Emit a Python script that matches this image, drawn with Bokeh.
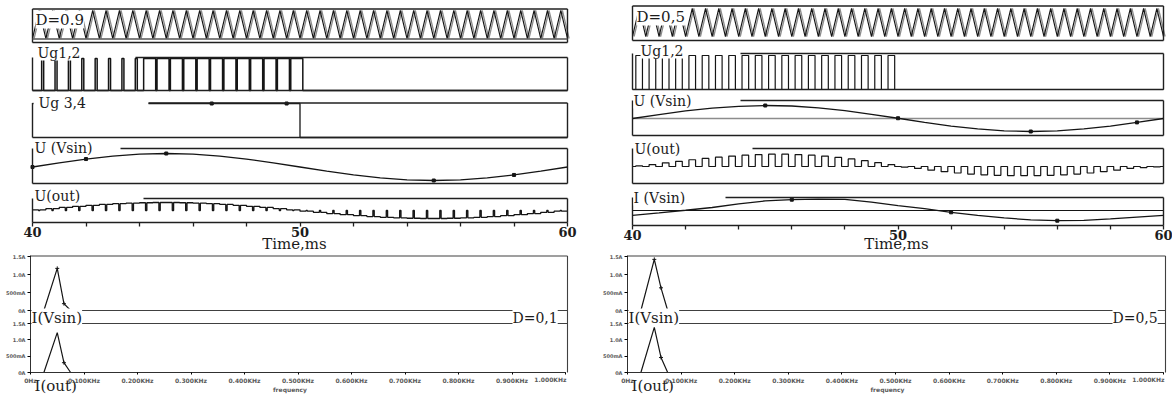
from bokeh.plotting import figure
from bokeh.models import (Range1d, LinearAxis, FixedTicker, CustomJSTickFormatter,
                          Label)
from bokeh.layouts import row, column
from bokeh.embed import file_html
from bokeh.resources import INLINE

# ---------------- data ----------------
t_slow = [40, 41, 42, 43, 44, 45, 46, 47, 48, 49, 50,
          51, 52, 53, 54, 55, 56, 57, 58, 59, 60]            # ms
pwm_cycle_t = [40.0 + 0.5 * k for k in range(40)]          # 2 kHz PWM cycle starts
carrier_t = [40.0 + 0.25 * i for i in range(81)]           # triangle vertices
carrier_v = [0.0, 1.0] * 40 + [0.0]

ug12_left_duty = [0.15] * 8 + [0.9] * 12 + [0.0] * 20
ug12_right_duty = [0.5] * 20 + [0.0] * 20
ug34_left_t = [40.0, 50.0, 50.0, 60.0]
ug34_left_v = [1.0, 1.0, 0.0, 0.0]

vsin_left = [0.0, 0.31, 0.59, 0.81, 0.95, 1.0, 0.95, 0.81, 0.59, 0.31, 0.0,
             -0.31, -0.59, -0.81, -0.95, -1.0, -0.95, -0.81, -0.59, -0.31, 0.0]
vsin_right = [0.0, 0.30, 0.58, 0.80, 0.94, 1.0, 0.96, 0.82, 0.60, 0.32, 0.02,
              -0.30, -0.58, -0.80, -0.95, -1.0, -0.95, -0.80, -0.58, -0.30, 0.0]
ivsin_right = [-0.40, -0.20, 0.02, 0.25, 0.55, 0.80, 0.90, 0.95, 0.92, 0.70, 0.40,
               0.15, -0.15, -0.40, -0.62, -0.78, -0.85, -0.82, -0.70, -0.55, -0.40]

uout_left_env = [0.08, 0.23, 0.38, 0.52, 0.65, 0.76, 0.85, 0.92, 0.97, 1.0,
                 1.0, 0.97, 0.92, 0.85, 0.76, 0.65, 0.52, 0.38, 0.23, 0.08,
                 -0.08, -0.23, -0.38, -0.52, -0.65, -0.76, -0.85, -0.92, -0.97, -1.0,
                 -1.0, -0.97, -0.92, -0.85, -0.76, -0.65, -0.52, -0.38, -0.23, -0.08]
uout_left_notch = 0.05     # ms off-time per cycle
uout_right_amp = [0.05, 0.15, 0.28, 0.40, 0.52, 0.62, 0.72, 0.80, 0.87, 0.92,
                  0.95, 0.95, 0.92, 0.87, 0.80, 0.70, 0.58, 0.45, 0.30, 0.15,
                  -0.05, -0.15, -0.28, -0.40, -0.50, -0.58, -0.64, -0.68, -0.70, -0.70,
                  -0.70, -0.68, -0.64, -0.58, -0.50, -0.40, -0.28, -0.15, -0.08, -0.03]
uout_right_duty = [0.5] * 40

marks_vsin_left = [0, 2, 5, 15, 18]
marks_vsin_right = [5, 10, 15, 19]
marks_ivsin_right = [6, 12, 16]
ug34_marks_t = [46.7, 49.5]
ug34_marks_v = [1.0, 1.0]

time_ticks = [40, 50, 60]
time_minor = [42, 44, 46, 48, 52, 54, 56, 58]

spec_f = [0.0, 0.025, 0.05, 0.0625, 0.075, 0.1, 0.2, 0.3, 0.4, 0.5, 0.6, 0.7, 0.8, 0.9, 1.0]
spec_ivsin_left = [0.0, 0.0, 1.17, 0.19, 0.0, 0.0, 0.0, 0.0, 0.0, 0.0, 0.0, 0.0, 0.0, 0.0, 0.0]
spec_iout_left = [0.0, 0.0, 1.22, 0.30, 0.0, 0.0, 0.0, 0.0, 0.0, 0.0, 0.0, 0.0, 0.0, 0.0, 0.0]
spec_ivsin_right = [0.0, 0.0, 1.42, 0.63, 0.0, 0.0, 0.0, 0.0, 0.0, 0.0, 0.0, 0.0, 0.0, 0.0, 0.0]
spec_iout_right = [0.0, 0.0, 1.38, 0.46, 0.0, 0.0, 0.0, 0.0, 0.0, 0.0, 0.0, 0.0, 0.0, 0.0, 0.0]
spec_ticks = [0.0, 0.1, 0.2, 0.3, 0.4, 0.5, 0.6, 0.7, 0.8, 0.9, 1.0]
spec_tick_labels = ["0Hz", "0.100KHz", "0.200KHz", "0.300KHz", "0.400KHz", "0.500KHz",
                    "0.600KHz", "0.700KHz", "0.800KHz", "0.900KHz", "1.000KHz"]
amp_ticks = [0.0, 0.5, 1.0, 1.5]
amp_labels = ["0A", "500mA", "1.0A", "1.5A"]

# ---------------- styling ----------------
SERIF = "DejaVu Serif"
INK = "#151515"
GRAY = "#8c8c8c"
FRAME = "#202020"
LW = 1.3
TIME_H = 254          # height of the time-domain block
SPEC_TOP, SPEC_BOT = 254, 394


def pulse_train(starts, amps, duty, centre=0.3):
    xs, ys = [40.0], [0.0]
    for t0, a, d in zip(starts, amps, duty):
        if d <= 0 or a == 0:
            continue
        r = t0 + centre - d * 0.25
        f = t0 + centre + d * 0.25
        xs += [r, r, f, f]
        ys += [0.0, a, a, 0.0]
    xs.append(60.0)
    ys.append(0.0)
    return xs, ys


def notched(starts, env, notch):
    xs, ys = [], []
    for t0, e in zip(starts, env):
        a = t0 + 0.25 - notch / 2
        b = t0 + 0.25 + notch / 2
        xs += [t0, a, a, b, b, t0 + 0.5]
        ys += [e, e, 0.0, 0.0, e, e]
    return xs, ys


def band_range(lo, hi, p_lo, p_hi, f_bot, f_top):
    k = (hi - lo) / (p_hi - p_lo)
    return Range1d(start=lo + (f_bot - p_lo) * k, end=lo + (f_top - p_lo) * k)


def page_of(v, lo, hi, p_lo, p_hi):
    return p_lo + (v - lo) * (p_hi - p_lo) / (hi - lo)


def base_fig(cx0, cx1, top, bot):
    p = figure(frame_width=cx1 - cx0, frame_height=bot - top,
               x_range=Range1d(cx0, cx1), y_range=Range1d(bot, top),
               min_border_left=0, min_border_right=0, min_border_top=0,
               min_border_bottom=0, x_axis_location=None, y_axis_location=None,
               toolbar_location=None, output_backend="svg")
    p.grid.visible = False
    p.outline_line_color = None
    p.background_fill_color = "white"
    p.border_fill_color = "white"
    return p


def box(p, xl, xr, top, bot, top_from=None, bottom=True, mask=False):
    xs = [[xl, xl], [xr, xr], [top_from if top_from else xl, xr]]
    ys = [[top, bot], [top, bot], [top, top]]
    if bottom:
        xs.append([xl, xr])
        ys.append([bot, bot])
    if top_from and mask:
        p.quad(left=xl + 1, right=top_from, top=top - 2.5, bottom=top + 2.5,
               fill_color="white", line_color=None)
    p.multi_line(xs, ys, line_color=FRAME, line_width=1.4)


def lab(p, x, y, text, size="14px", align="left", bg=True, font=SERIF,
        style="normal", color="#1c1c1c"):
    p.add_layout(Label(x=x, y=y, text=text, text_font=font,
                       text_font_size=size, text_align=align, text_baseline="middle",
                       text_color=color, text_font_style=style,
                       background_fill_color="white" if bg else None))


def zero_line(p, rng, color, width):
    # the 0 level of a trace, across the plotted time span
    p.line([time_ticks[0], time_ticks[-1]], [0, 0], x_range_name="ms", y_range_name=rng,
           line_color=color, line_width=width)


def time_fig(cx0, cx1, x40, x60, axis_y, label_x):
    p = base_fig(cx0, cx1, 0, TIME_H)
    s = (x60 - x40) / 20.0
    p.extra_x_ranges = {"ms": Range1d(40 - (x40 - cx0) / s, 60 + (cx1 - x60) / s)}
    ax = LinearAxis(x_range_name="ms",
                    ticker=FixedTicker(ticks=time_ticks, minor_ticks=time_minor),
                    bounds=(40, 60), fixed_location=axis_y)
    ax.axis_line_color = FRAME
    ax.axis_line_width = 1.4
    ax.major_tick_out = 4
    ax.major_tick_in = 0
    ax.minor_tick_out = 4
    ax.minor_tick_in = 0
    ax.major_tick_line_color = FRAME
    ax.minor_tick_line_color = FRAME
    ax.major_tick_line_width = 1.3
    ax.minor_tick_line_width = 1.3
    ax.major_label_standoff = 0
    ax.major_label_text_font = SERIF
    ax.major_label_text_font_size = "13px"
    ax.major_label_text_font_style = "bold"
    ax.major_label_text_color = "#1c1c1c"
    p.add_layout(ax, "below")
    lab(p, label_x, 243.5, "Time,ms", size="15px", align="center", bg=False)
    return p


def spec_fig(cx0, cx1, x0, x1, ivs, iout, note, note_x):
    p = base_fig(cx0, cx1, SPEC_TOP, SPEC_BOT)
    s = (x1 - x0) / 1.0
    p.extra_x_ranges = {"khz": Range1d(0 - (x0 - cx0) / s, 1 + (cx1 - x1) / s)}
    top_map = (0.0, 1.5, 310.0, 256.0)
    bot_map = (0.0, 1.5, 372.0, 323.0)
    p.extra_y_ranges = {"top": band_range(*top_map, SPEC_BOT, SPEC_TOP),
                        "bot": band_range(*bot_map, SPEC_BOT, SPEC_TOP)}
    # x axis
    ax = LinearAxis(x_range_name="khz", fixed_location=372, bounds=(0, 1),
                    ticker=FixedTicker(ticks=spec_ticks),
                    formatter=CustomJSTickFormatter(
                        args=dict(vals=spec_ticks, labs=spec_tick_labels),
                        code="""
for (let i = 0; i < vals.length; i++) {
  if (Math.abs(vals[i] - tick) < 1e-6) { return (i == vals.length - 1) ? "" : labs[i]; }
}
return "";"""))
    ax.axis_line_color = "#303030"
    ax.major_tick_out = 2
    ax.major_tick_in = 0
    ax.minor_tick_line_color = None
    ax.major_label_standoff = 2
    ax.major_label_text_font = "DejaVu Sans"
    ax.major_label_text_font_size = "6px"
    ax.major_label_text_font_style = "bold"
    ax.major_label_text_color = "#5a5a5a"
    p.add_layout(ax, "below")
    # y axis, ticks placed at the two sub-panels' values
    pos = [page_of(v, *top_map) for v in amp_ticks] + [page_of(v, *bot_map) for v in amp_ticks]
    labs = amp_labels + amp_labels
    ay = LinearAxis(fixed_location=x0, ticker=FixedTicker(ticks=pos),
                    formatter=CustomJSTickFormatter(
                        args=dict(pos=pos, labs=labs),
                        code="""
for (let i = 0; i < pos.length; i++) {
  if (Math.abs(pos[i] - tick) < 0.01) { return labs[i]; }
}
return "";"""), bounds=(255, 372))
    ay.axis_line_color = "#303030"
    ay.major_tick_out = 3
    ay.major_tick_in = 0
    ay.minor_tick_line_color = None
    ay.major_label_standoff = 2
    ay.major_label_text_font = "DejaVu Sans"
    ay.major_label_text_font_size = "5px"
    ay.major_label_text_font_style = "bold"
    ay.major_label_text_color = "#5a5a5a"
    p.add_layout(ay, "left")
    # traces
    p.line(spec_f, ivs, x_range_name="khz", y_range_name="top", line_color=INK, line_width=1.2)
    p.line(spec_f, iout, x_range_name="khz", y_range_name="bot", line_color=INK, line_width=1.2)
    p.scatter([spec_f[i] for i in (2, 3)], [ivs[i] for i in (2, 3)],
              x_range_name="khz", y_range_name="top", marker="cross", size=4, line_color=INK)
    p.scatter([spec_f[3]], [iout[3]], x_range_name="khz", y_range_name="bot",
              marker="cross", size=4, line_color=INK)
    # frame
    xl, xrr = x0, x1 + 2
    p.multi_line([[xl, xrr], [xrr, xrr], [xl, xrr], [xl, xrr]],
                 [[255.5, 255.5], [255.5, 372], [310, 310], [323, 323]],
                 line_color="#404040", line_width=1.1)
    lab(p, x0 + 1, 317, "I(Vsin)", size="15px")
    lab(p, note_x, 317, note, size="14px")
    lab(p, x0 + 4, 385, "I(out)", size="15px", bg=False)
    lab(p, (x0 + x1) / 2 - 8, 389, "frequency", size="6px", align="center", bg=False,
        font="DejaVu Sans", style="bold", color="#5a5a5a")
    lab(p, x1 + 1, 379, spec_tick_labels[-1], size="6px", align="right", bg=False,
        font="DejaVu Sans", style="bold", color="#5a5a5a")
    return p


# ================= LEFT HALF (D = 0.9 / 0.1) =================
LC0, LC1 = 0, 598
LX0, LX1 = 32, 567
L = time_fig(LC0, LC1, LX0, LX1, 222, 294)
L.extra_y_ranges = {
    "car": band_range(0, 1, 38, 10, TIME_H, 0),
    "ug12": band_range(0, 1, 90, 58, TIME_H, 0),
    "ug34": band_range(0, 1, 137, 103, TIME_H, 0),
    "vsin": band_range(-1, 1, 180, 153, TIME_H, 0),
    "uout": band_range(-1, 1, 218, 202, TIME_H, 0),
}
L.line([t + 0.06 for t in carrier_t], carrier_v, x_range_name="ms", y_range_name="car",
       line_color=GRAY, line_width=1.3)
L.line(carrier_t, carrier_v, x_range_name="ms", y_range_name="car", line_color=INK, line_width=1.1)
x, y = pulse_train(pwm_cycle_t, [1.0] * 40, ug12_left_duty, centre=0.38)
L.line(x, y, x_range_name="ms", y_range_name="ug12", line_color=INK, line_width=1.5)
L.line(ug34_left_t, ug34_left_v, x_range_name="ms", y_range_name="ug34", line_color=INK, line_width=LW)
L.scatter(ug34_marks_t, ug34_marks_v, x_range_name="ms", y_range_name="ug34",
          marker="square", size=3, color=INK)
L.line(t_slow, vsin_left, x_range_name="ms", y_range_name="vsin", line_color=INK, line_width=LW)
L.scatter([t_slow[i] for i in marks_vsin_left], [vsin_left[i] for i in marks_vsin_left],
          x_range_name="ms", y_range_name="vsin", marker="square", size=3, color=INK)
x, y = notched(pwm_cycle_t, uout_left_env, uout_left_notch)
L.line(x, y, x_range_name="ms", y_range_name="uout", line_color=INK, line_width=LW)

box(L, LX0, LX1, 8.5, 42)
L.line([LX0, LX1], [38.5, 38.5], line_color="#555555", line_width=1.6)
box(L, LX0, LX1, 57, 90, top_from=135)
box(L, LX0, LX1, 102.5, 137, top_from=148, mask=True)
box(L, LX0, LX1, 148, 183, top_from=120)
box(L, LX0, LX1, 198, 222, top_from=143, bottom=False)
lab(L, 35, 19, "D=0.9", size="15px")
lab(L, 37, 52, "Ug1,2")
lab(L, 38, 102, "Ug 3,4")
lab(L, 34, 147, "U (Vsin)")
lab(L, 34, 195, "U(out)")

LS = spec_fig(LC0, LC1, 30, 565, spec_ivsin_left, spec_iout_left, "D=0,1", 512)

# ================= RIGHT HALF (D = 0.5) =================
RC0, RC1 = 598, 1172
RX0, RX1 = 632, 1163
R = time_fig(RC0, RC1, RX0, RX1, 225, 896)
R.extra_y_ranges = {
    "car": band_range(0, 1, 36, 8, TIME_H, 0),
    "ug12": band_range(0, 1, 89, 55, TIME_H, 0),
    "vsin": band_range(-1, 1, 131, 105, TIME_H, 0),
    "uout": band_range(-1, 1, 179, 153, TIME_H, 0),
    "ivs": band_range(-1, 1, 222, 198, TIME_H, 0),
}
R.line([t + 0.06 for t in carrier_t], carrier_v, x_range_name="ms", y_range_name="car",
       line_color=GRAY, line_width=1.3)
R.line(carrier_t, carrier_v, x_range_name="ms", y_range_name="car", line_color=INK, line_width=1.1)
x, y = pulse_train(pwm_cycle_t, [1.0] * 40, ug12_right_duty, centre=0.25)
R.line(x, y, x_range_name="ms", y_range_name="ug12", line_color=INK, line_width=1.2)
zero_line(R, "vsin", GRAY, 1.4)
R.line(t_slow, vsin_right, x_range_name="ms", y_range_name="vsin", line_color=INK, line_width=LW)
R.scatter([t_slow[i] for i in marks_vsin_right], [vsin_right[i] for i in marks_vsin_right],
          x_range_name="ms", y_range_name="vsin", marker="square", size=3, color=INK)
x, y = pulse_train(pwm_cycle_t, uout_right_amp, uout_right_duty, centre=0.25)
R.line(x, y, x_range_name="ms", y_range_name="uout", line_color=INK, line_width=1.2)
zero_line(R, "ivs", INK, 1.2)
R.line(t_slow, ivsin_right, x_range_name="ms", y_range_name="ivs", line_color=INK, line_width=LW)
R.scatter([t_slow[i] for i in marks_ivsin_right], [ivsin_right[i] for i in marks_ivsin_right],
          x_range_name="ms", y_range_name="ivs", marker="square", size=3, color=INK)

box(R, RX0, RX1, 5.5, 40)
box(R, RX0, RX1, 53, 89, top_from=740)
box(R, RX0, RX1, 100, 135, top_from=740)
box(R, RX0, RX1, 148, 183, top_from=752)
box(R, RX0, RX1, 197, 225, top_from=725, bottom=False)
lab(R, 636, 16, "D=0,5", size="15px")
lab(R, 640, 50, "Ug1,2")
lab(R, 633, 100, "U (Vsin)")
lab(R, 634, 148, "U(out)")
lab(R, 633, 197, "I (Vsin)")

RS = spec_fig(RC0, RC1, 627, 1163, spec_ivsin_right, spec_iout_right, "D=0,5", 1112)

layout = row(column(L, LS), column(R, RS))
open("out.html", "w").write(file_html(layout, INLINE))
